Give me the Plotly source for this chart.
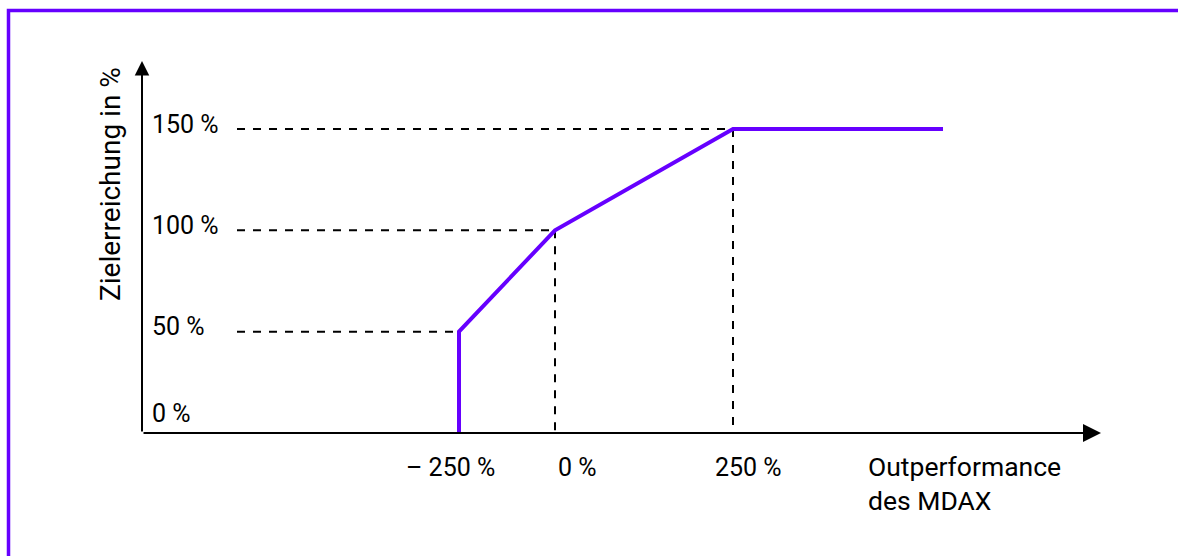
import plotly.graph_objects as go

# ---------------- data ----------------
# y: target achievement (Zielerreichung) in %
y_ticks = [0, 50, 100, 150]
y_tick_labels = ["0 %", "50 %", "100 %", "150 %"]

# x: outperformance of the MDAX, schematic (not-to-scale) axis positions
x_tick_pos = [-96, 0, 178]
x_tick_labels = ["\u2013 250 %", "0 %", "250 %"]

# payout curve (schematic positions / achievement %)
curve_x = [-96, -96, 0, 178, 388]
curve_y = [0, 50, 100, 150, 150]

# dashed guide lines
guide_start_x = -318
h_guide_y = [50, 100, 150]
h_guide_end_x = [-96, 0, 178]
v_guide_x = [0, 178]
v_guide_top_y = [100, 150]

y_title = "Zielerreichung in %"
x_title = "Outperformance<br>des MDAX"

# ---------------- styling ----------------
PURPLE = "#6600ff"
FONT = "Roboto"
FS = 25

W, H = 1178, 556
ML, MR, MT, MB = 100, 38, 30, 100
X0_PX = 555          # pixel of x=0
Y0_PX = 433          # pixel of y=0
PX_PER_Y = 304 / 150


def dx(px):
    return px - X0_PX


def dy(py):
    return (Y0_PX - py) / PX_PER_Y


x_range = [dx(ML), dx(W - MR)]
y_range = [dy(H - MB), dy(MT)]

fig = go.Figure()

# horizontal dashed guides
for yv, xe in zip(h_guide_y, h_guide_end_x):
    fig.add_trace(go.Scatter(x=[guide_start_x, xe], y=[yv, yv], mode="lines",
                             line=dict(color="black", width=2, dash="8px,8px"),
                             hoverinfo="skip", showlegend=False, cliponaxis=False))
# vertical dashed guides
for xv, yt in zip(v_guide_x, v_guide_top_y):
    fig.add_trace(go.Scatter(x=[xv, xv], y=[yt, 0], mode="lines",
                             line=dict(color="black", width=2, dash="8px,8px"),
                             hoverinfo="skip", showlegend=False, cliponaxis=False))

# curve
fig.add_trace(go.Scatter(x=curve_x, y=curve_y, mode="lines",
                         line=dict(color=PURPLE, width=4),
                         hoverinfo="skip", showlegend=False, cliponaxis=False))

annotations = []
# axes as arrows
annotations.append(dict(x=dx(1101), y=0, ax=dx(142), ay=0, xref="x", yref="y",
                        axref="x", ayref="y", showarrow=True, arrowhead=2,
                        arrowsize=1.8, arrowwidth=2, arrowcolor="black", text="",
                        standoff=0, startstandoff=0))
annotations.append(dict(x=dx(142), y=dy(61), ax=dx(142), ay=0, xref="x", yref="y",
                        axref="x", ayref="y", showarrow=True, arrowhead=2,
                        arrowsize=1.45, arrowwidth=2, arrowcolor="black", text="",
                        standoff=0, startstandoff=0))

# y tick labels
for v, lab in zip(y_ticks, y_tick_labels):
    annotations.append(dict(x=dx(150), y=v, xref="x", yref="y", text=lab,
                            showarrow=False, xanchor="left", yanchor="middle",
                            yshift=20 if v == 0 else 5,
                            font=dict(family=FONT, size=FS, color="black")))

# x tick labels
x_label_shift = [-9, 22, 15]
for p, lab, s in zip(x_tick_pos, x_tick_labels, x_label_shift):
    annotations.append(dict(x=p, y=0, xref="x", yref="y", text=lab,
                            showarrow=False, xanchor="center", yanchor="middle",
                            xshift=s, yshift=-34,
                            font=dict(family=FONT, size=FS, color="black")))

# axis titles
annotations.append(dict(x=dx(866), y=0, xref="x", yref="y", text=x_title,
                        showarrow=False, xanchor="left", yanchor="middle", align="left",
                        yshift=-50, font=dict(family=FONT, size=26.5, color="black")))
annotations.append(dict(x=dx(110), y=dy(184), xref="x", yref="y", text=y_title,
                        showarrow=False, textangle=-90, xanchor="center", yanchor="middle",
                        font=dict(family=FONT, size=28, color="black")))

# purple frame (top and left edges)
pw = W - ML - MR
ph = H - MT - MB
fx = (8.5 - ML) / pw
fy = (H - MB - 10.5) / ph
shapes = [dict(type="path", xref="paper", yref="paper",
               path=f"M {fx},{-0.5} L {fx},{fy} L {1.2},{fy}",
               line=dict(color=PURPLE, width=3.5))]

fig.update_layout(
    width=W, height=H,
    margin=dict(l=ML, r=MR, t=MT, b=MB),
    paper_bgcolor="white", plot_bgcolor="white",
    xaxis=dict(range=x_range, visible=False, fixedrange=True),
    yaxis=dict(range=y_range, visible=False, fixedrange=True),
    annotations=annotations, shapes=shapes,
    showlegend=False,
)

fig.write_html("out.html")
